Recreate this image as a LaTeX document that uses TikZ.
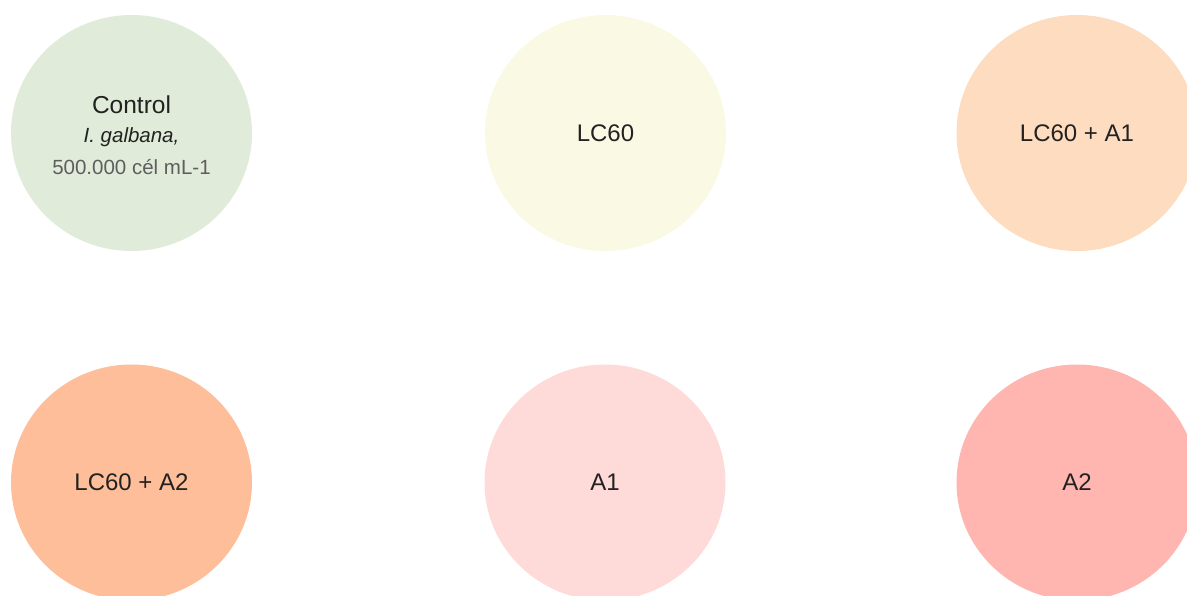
\documentclass[tikz,border=0pt]{standalone}
\usepackage{fontspec}
\setmainfont{Liberation Sans}
\usetikzlibrary{shapes.geometric}

\definecolor{cControl}{HTML}{E1EBD9}
\definecolor{cLC}{HTML}{FAF9E4}
\definecolor{cLCAone}{HTML}{FDDCBF}
\definecolor{cLCAtwo}{HTML}{FDBE99}
\definecolor{cAone}{HTML}{FEDBD9}
\definecolor{cAtwo}{HTML}{FFB6B0}
\definecolor{txt}{HTML}{222222}
\definecolor{subtxt}{HTML}{5E5E5E}

\tikzset{
  disc/.style={ellipse, draw=none, inner sep=0pt,
    minimum width=241pt, minimum height=236pt},
  lbl/.style={font=\fontsize{24}{28}\selectfont, text=txt, inner sep=0pt},
  lblbase/.style={anchor=base, inner sep=0pt},
}

\begin{document}
\begin{tikzpicture}[x=1pt, y=-1pt]
  \useasboundingbox (0,0) rectangle (1187,596);

  % top row
  \node[disc, fill=cControl] (ctl) at (131.5,133) {};
  \node[disc, fill=cLC]      (lc)  at (605.5,133) {};
  \node[disc, fill=cLCAone]  (lca1) at (1077,133) {};

  % bottom row
  \node[disc, fill=cLCAtwo]  (lca2) at (131.5,482.5) {};
  \node[disc, fill=cAone]    (a1)   at (605,482.5) {};
  \node[disc, fill=cAtwo]    (a2)   at (1077,482.5) {};

  % control treatment: three lines (yshift is measured upwards)
  \node[lblbase, font=\fontsize{24.5}{28}\selectfont, text=txt]
    (ctlA) at ([yshift=19pt]ctl.center) {Control};
  \node[lblbase, font=\fontsize{20.5}{24}\selectfont\itshape, text=txt]
    (ctlB) at ([yshift=-9.7pt]ctl.center) {I. galbana,};
  \node[lblbase, font=\fontsize{20.5}{24}\selectfont, text=subtxt]
    (ctlC) at ([yshift=-42pt]ctl.center) {500.000 cél mL-1};

  % remaining treatments
  \node[lbl] (lcT)   at (lc.center)   {LC60};
  \node[lbl] (lca1T) at (lca1.center) {LC60 + A1};
  \node[lbl] (lca2T) at (lca2.center) {LC60 + A2};
  \node[lbl] (a1T)   at (a1.center)   {A1};
  \node[lbl] (a2T)   at (a2.center)   {A2};
\end{tikzpicture}
\end{document}
